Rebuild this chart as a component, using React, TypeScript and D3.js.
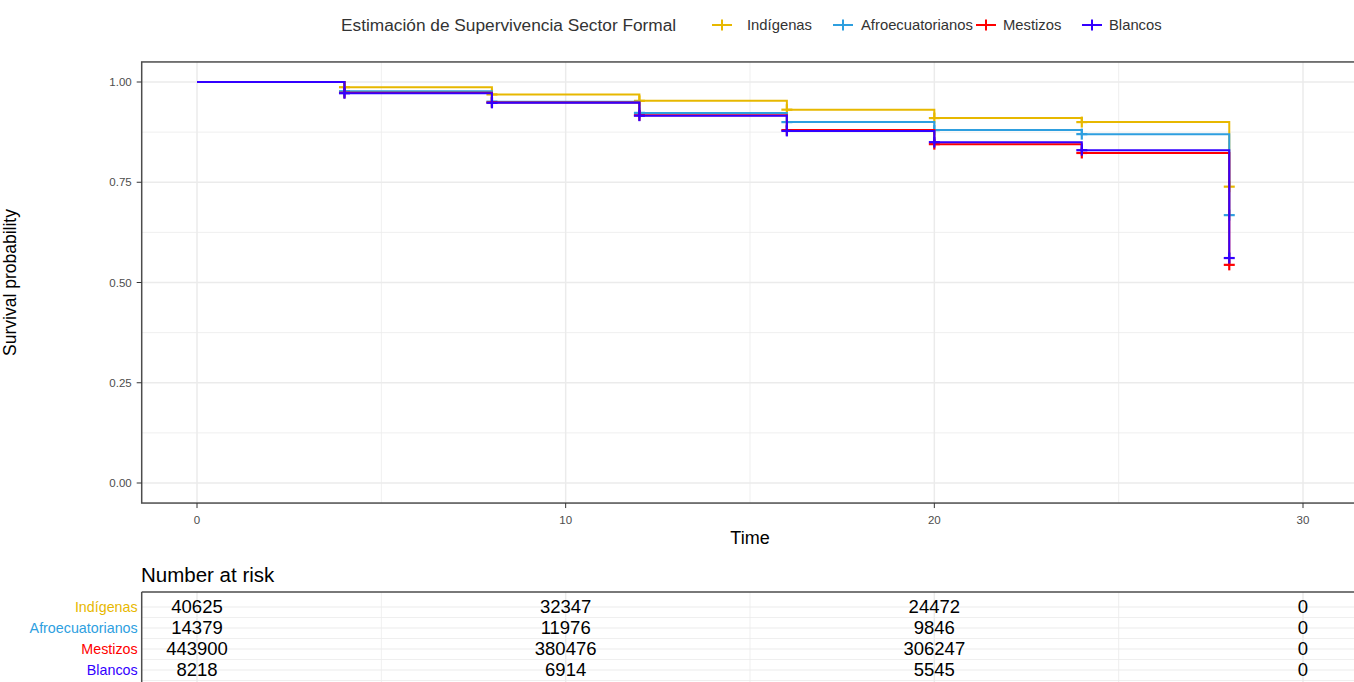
import React from "react";
import * as d3 from "d3";

const times = [0, 4, 8, 12, 16, 20, 24, 28];
const seriesNames = ["Indígenas", "Afroecuatorianos", "Mestizos", "Blancos"];
const seriesColors = ["#E7B800", "#2E9FDF", "#FF0000", "#3300FF"];
const indigenas = [1, 0.987, 0.969, 0.953, 0.931, 0.91, 0.9, 0.739];
const afro = [1, 0.977, 0.951, 0.923, 0.9, 0.88, 0.87, 0.668];
const mestizos = [1, 0.973, 0.949, 0.917, 0.88, 0.845, 0.823, 0.544];
const blancos = [1, 0.972, 0.948, 0.916, 0.878, 0.85, 0.83, 0.561];
const seriesValues = [indigenas, afro, mestizos, blancos];

const riskTimes = [0, 10, 20, 30];
const riskIndigenas = [40625, 32347, 24472, 0];
const riskAfro = [14379, 11976, 9846, 0];
const riskMestizos = [443900, 380476, 306247, 0];
const riskBlancos = [8218, 6914, 5545, 0];
const riskValues = [riskIndigenas, riskAfro, riskMestizos, riskBlancos];

const xTicks = [0, 10, 20, 30];
const xMinor = [5, 15, 25];
const yTicks = [0, 0.25, 0.5, 0.75, 1];
const yMinor = [0.125, 0.375, 0.625, 0.875];

const W = 1354;
const H = 682;
const FONT = "Liberation Sans, Arial, sans-serif";

export default function App() {
  const x = d3.scaleLinear().domain([0, 30]).range([197, 1303]);
  const y = d3.scaleLinear().domain([0, 1]).range([483, 82]);
  const px0 = x(-1.5);
  const px1 = x(31.5);
  const py0 = y(1.05);
  const py1 = y(-0.05);

  const line = d3
    .line<[number, number]>()
    .x((d) => x(d[0]))
    .y((d) => y(d[1]))
    .curve(d3.curveStepAfter);

  // risk table
  const rowY = d3.scalePoint<string>().domain(seriesNames).range([607, 670]);
  const tTop = 592;
  const tBottom = 690;

  const plus = (cx: number, cy: number, color: string, key: string, s = 5.5) => (
    <g key={key} stroke={color} strokeWidth={2.2}>
      <line x1={cx - s} x2={cx + s} y1={cy} y2={cy} />
      <line x1={cx} x2={cx} y1={cy - s} y2={cy + s} />
    </g>
  );

  const legendItems = [
    { kx: 722, tx: 747 },
    { kx: 843, tx: 861 },
    { kx: 986, tx: 1003 },
    { kx: 1092, tx: 1109 },
  ];

  return (
    <svg
      width={W}
      height={H}
      style={{ position: "absolute", left: 0, top: 0, background: "#fff" }}
      fontFamily={FONT}
    >
      {/* legend */}
      <text x={341} y={31} fontSize={17.3} fill="#333">
        Estimación de Supervivencia Sector Formal
      </text>
      {seriesNames.map((n, i) => (
        <g key={n}>
          <line
            x1={legendItems[i].kx - 10}
            x2={legendItems[i].kx + 10}
            y1={25}
            y2={25}
            stroke={seriesColors[i]}
            strokeWidth={2}
          />
          <line
            x1={legendItems[i].kx}
            x2={legendItems[i].kx}
            y1={19.5}
            y2={30.5}
            stroke={seriesColors[i]}
            strokeWidth={2}
          />
          <text x={legendItems[i].tx} y={30} fontSize={14.8} fill="#333">
            {n}
          </text>
        </g>
      ))}

      {/* main panel grid */}
      <g stroke="#EBEBEB">
        {yMinor.map((v) => (
          <line key={"ym" + v} x1={px0} x2={px1} y1={y(v)} y2={y(v)} strokeWidth={0.8} />
        ))}
        {xMinor.map((v) => (
          <line key={"xm" + v} x1={x(v)} x2={x(v)} y1={py0} y2={py1} strokeWidth={0.8} />
        ))}
        {yTicks.map((v) => (
          <line key={"y" + v} x1={px0} x2={px1} y1={y(v)} y2={y(v)} strokeWidth={1.5} />
        ))}
        {xTicks.map((v) => (
          <line key={"x" + v} x1={x(v)} x2={x(v)} y1={py0} y2={py1} strokeWidth={1.5} />
        ))}
      </g>

      {/* curves */}
      {seriesValues.map((vals, i) => {
        const pts: [number, number][] = times.map((t, j) => [t, vals[j]]);
        return (
          <g key={seriesNames[i]}>
            <path d={line(pts) || ""} fill="none" stroke={seriesColors[i]} strokeWidth={2} />
            {pts.slice(1).map((p, j) =>
              plus(x(p[0]), y(p[1]), seriesColors[i], seriesNames[i] + j)
            )}
          </g>
        );
      })}

      {/* panel border */}
      <rect
        x={px0}
        y={py0}
        width={px1 - px0}
        height={py1 - py0}
        fill="none"
        stroke="#4D4D4D"
        strokeWidth={1.5}
      />

      {/* y axis */}
      {yTicks.map((v) => (
        <g key={"yt" + v}>
          <line x1={px0 - 5} x2={px0} y1={y(v)} y2={y(v)} stroke="#333" strokeWidth={1} />
          <text
            x={px0 - 10}
            y={y(v)}
            dy="0.35em"
            textAnchor="end"
            fontSize={11.5}
            fill="#4D4D4D"
          >
            {d3.format(".2f")(v)}
          </text>
        </g>
      ))}
      <text
        transform={`translate(16,${(py0 + py1) / 2}) rotate(-90)`}
        textAnchor="middle"
        fontSize={17.5}
        fill="#000"
      >
        Survival probability
      </text>

      {/* x axis */}
      {xTicks.map((v) => (
        <g key={"xt" + v}>
          <line x1={x(v)} x2={x(v)} y1={py1} y2={py1 + 5} stroke="#333" strokeWidth={1} />
          <text x={x(v)} y={py1 + 21} textAnchor="middle" fontSize={11.5} fill="#4D4D4D">
            {v}
          </text>
        </g>
      ))}
      <text x={(px0 + px1) / 2} y={544} textAnchor="middle" fontSize={18} fill="#000">
        Time
      </text>

      {/* risk table */}
      <text x={141} y={582} fontSize={20.5} fill="#000">
        Number at risk
      </text>
      <g stroke="#EBEBEB">
        {seriesNames.map((n) => (
          <line key={"rr" + n} x1={px0} x2={px1} y1={rowY(n)} y2={rowY(n)} strokeWidth={1.2} />
        ))}
        {seriesNames.map((n) => (
          <line
            key={"rm" + n}
            x1={px0}
            x2={px1}
            y1={(rowY(n) as number) + 10.5}
            y2={(rowY(n) as number) + 10.5}
            strokeWidth={0.8}
          />
        ))}
        {xMinor.map((v) => (
          <line key={"rxm" + v} x1={x(v)} x2={x(v)} y1={tTop} y2={tBottom} strokeWidth={0.8} />
        ))}
        {xTicks.map((v) => (
          <line key={"rx" + v} x1={x(v)} x2={x(v)} y1={tTop} y2={tBottom} strokeWidth={1.5} />
        ))}
      </g>
      <line x1={px0} x2={px1} y1={tTop} y2={tTop} stroke="#4D4D4D" strokeWidth={1.5} />
      <line x1={px0} x2={px0} y1={tTop} y2={tBottom} stroke="#4D4D4D" strokeWidth={1.5} />
      {seriesNames.map((n, i) => (
        <g key={"risk" + n}>
          <text
            x={px0 - 4}
            y={rowY(n)}
            dy="0.35em"
            textAnchor="end"
            fontSize={14.3}
            fill={seriesColors[i]}
          >
            {n}
          </text>
          {riskTimes.map((t, j) => (
            <text
              key={t}
              x={x(t)}
              y={rowY(n)}
              dy="0.35em"
              textAnchor="middle"
              fontSize={18.5}
              fill="#000"
            >
              {riskValues[i][j]}
            </text>
          ))}
        </g>
      ))}
    </svg>
  );
}
